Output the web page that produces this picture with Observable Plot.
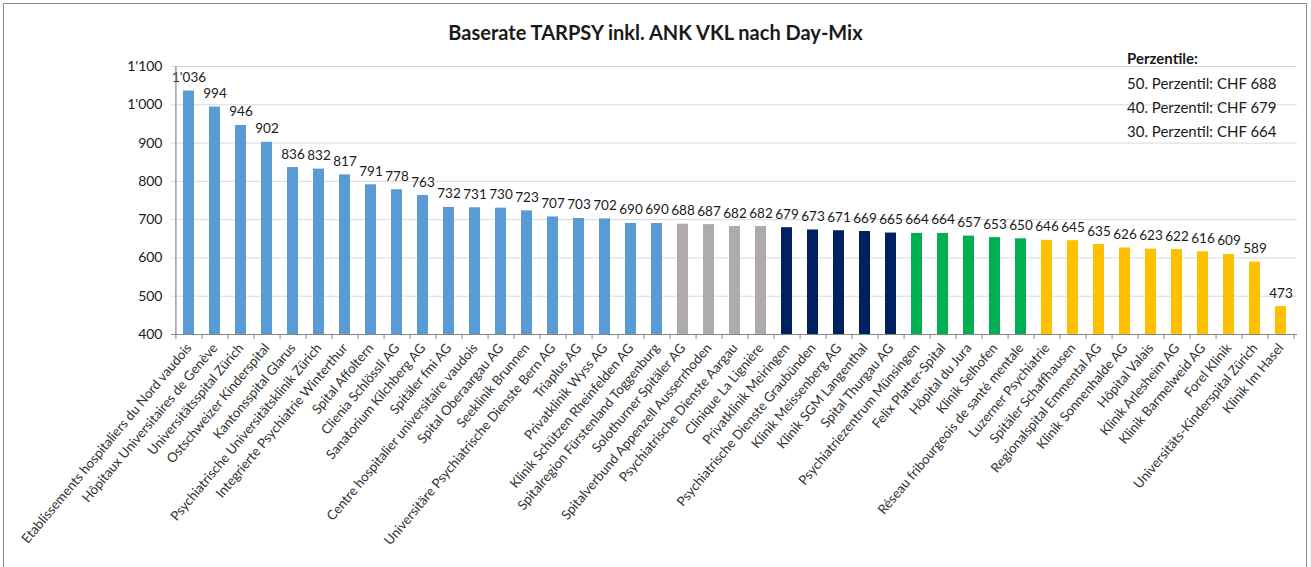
<!DOCTYPE html>
<html>
<head>
<meta charset="utf-8">
<script src="https://cdn.jsdelivr.net/npm/d3@7"></script>
<script src="https://cdn.jsdelivr.net/npm/@observablehq/plot@0.6"></script>
<style>
  html, body { margin: 0; padding: 0; background: #fff; }
  #wrap { position: relative; width: 1311px; height: 567px; overflow: hidden; font-family: Lato, "Open Sans", sans-serif; }
  #border { position: absolute; left: 3px; top: 3px; width: 1304px; height: 600px; border: 1.5px solid #8c8c8c; box-sizing: border-box; }
  #title { position: absolute; left: 0; width: 1311px; top: 20px; text-align: center; font-weight: bold; font-size: 20px; color: #1a1a1a; }
  #legend { position: absolute; left: 1127px; top: 46px; font-size: 15px; color: #1a1a1a; line-height: 24px; }
  #legend b { font-weight: bold; display: block; margin-bottom: 1px; }
  #chart { position: absolute; left: 0; top: 0; }
</style>
</head>
<body>
<div id="wrap">
  <div id="chart"></div>
  <div id="border"></div>
  <div id="title"></div>
  <div id="legend"></div>
</div>
<script>
const title = "Baserate TARPSY inkl. ANK VKL nach Day-Mix";
const legendTitle = "Perzentile:";
const legendLines = ["50. Perzentil: CHF 688", "40. Perzentil: CHF 679", "30. Perzentil: CHF 664"];

const hospitals = [
  "Etablissements hospitaliers du Nord vaudois",
  "Hôpitaux Universitaires de Genève",
  "Universitätsspital Zürich",
  "Ostschweizer Kinderspital",
  "Kantonsspital Glarus",
  "Psychiatrische Universitätsklinik Zürich",
  "Integrierte Psychiatrie Winterthur",
  "Spital Affoltern",
  "Clienia Schlössli AG",
  "Sanatorium Kilchberg AG",
  "Spitäler fmi AG",
  "Centre hospitalier universitaire vaudois",
  "Spital Oberaargau AG",
  "Seeklinik Brunnen",
  "Universitäre Psychiatrische Dienste Bern AG",
  "Triaplus AG",
  "Privatklinik Wyss AG",
  "Klinik Schützen Rheinfelden AG",
  "Spitalregion Fürstenland Toggenburg",
  "Solothurner Spitäler AG",
  "Spitalverbund Appenzell Ausserrhoden",
  "Psychiatrische Dienste Aargau",
  "Clinique La Lignière",
  "Privatklinik Meiringen",
  "Psychiatrische Dienste Graubünden",
  "Klinik Meissenberg AG",
  "Klinik SGM Langenthal",
  "Spital Thurgau AG",
  "Psychiatriezentrum Münsingen",
  "Felix Platter-Spital",
  "Hôpital du Jura",
  "Klinik Selhofen",
  "Réseau fribourgeois de santé mentale",
  "Luzerner Psychiatrie",
  "Spitäler Schaffhausen",
  "Regionalspital Emmental AG",
  "Klinik Sonnenhalde AG",
  "Hôpital Valais",
  "Klinik Arlesheim AG",
  "Klinik Barmelweid AG",
  "Forel Klinik",
  "Universitäts-Kinderspital Zürich",
  "Klinik Im Hasel"
];
const baserates = [1036, 994, 946, 902, 836, 832, 817, 791, 778, 763, 732, 731, 730, 723, 707, 703, 702, 690, 690,
  688, 687, 682, 682,
  679, 673, 671, 669, 665,
  664, 664, 657, 653, 650,
  646, 645, 635, 626, 623, 622, 616, 609, 589, 473];
const groups = [
  "A","A","A","A","A","A","A","A","A","A","A","A","A","A","A","A","A","A","A",
  "B","B","B","B",
  "C","C","C","C","C",
  "D","D","D","D","D",
  "E","E","E","E","E","E","E","E","E","E"
];
const groupNames = ["A","B","C","D","E"];
const groupColors = ["#5B9BD5", "#AFABAB", "#002060", "#00B050", "#FFC000"];
const yTicks = [400, 500, 600, 700, 800, 900, 1000, 1100];

const data = hospitals.map((h, i) => ({name: h, value: baserates[i], group: groups[i]}));
const fmt = d3.formatLocale({decimal: ".", thousands: "'", grouping: [3], currency: ["", ""]}).format(",d");

document.getElementById("title").textContent = title;
const lg = document.getElementById("legend");
lg.innerHTML = "";
const t = document.createElement("b"); t.textContent = legendTitle; lg.appendChild(t);
legendLines.forEach(s => { const d = document.createElement("div"); d.textContent = s; lg.appendChild(d); });

const W = 1311, H = 567, mL = 171, mR = 14, mT = 66, mB = 233;
const step = (W - mL - mR) / hospitals.length;
const plotH = H - mT - mB;

const chart = Plot.plot({
  width: W, height: H,
  marginLeft: mL, marginRight: mR, marginTop: mT, marginBottom: mB,
  style: {fontFamily: "Lato, 'Open Sans', sans-serif", background: "transparent", color: "#1a1a1a"},
  x: {domain: hospitals, paddingInner: 0.58, paddingOuter: 0.29, label: null},
  y: {domain: [400, 1100], ticks: yTicks, label: null},
  color: {domain: groupNames, range: groupColors},
  marks: [
    Plot.gridY(yTicks, {stroke: "#d9d9d9", strokeOpacity: 1, strokeWidth: 1}),
    Plot.barY(data, {x: "name", y1: 400, y2: "value", fill: "group"}),
    Plot.text(data, {x: "name", y: "value", text: d => fmt(d.value), dy: -9, fontSize: 13.5, fill: "#1a1a1a", lineAnchor: "bottom"}),
    Plot.ruleY([400], {stroke: "#868686", strokeWidth: 1.2}),
    Plot.ruleX([hospitals[0]], {dx: -step / 2, stroke: "#868686", strokeWidth: 1.2}),
    Plot.ruleX(hospitals, {dx: step / 2, insetTop: plotH, insetBottom: -5, stroke: "#868686"}),
    Plot.ruleX([hospitals[0]], {dx: -step / 2, insetTop: plotH, insetBottom: -5, stroke: "#868686"}),
    Plot.axisY(yTicks, {tickSize: 0, tickPadding: 9, fontSize: 14, tickFormat: fmt, fill: "#1a1a1a"}),
    Plot.axisX({tickSize: 0, tickPadding: 11, tickRotate: -50, fontSize: 13.3, fill: "#333"})
  ]
});
document.getElementById("chart").appendChild(chart);
</script>
</body>
</html>
